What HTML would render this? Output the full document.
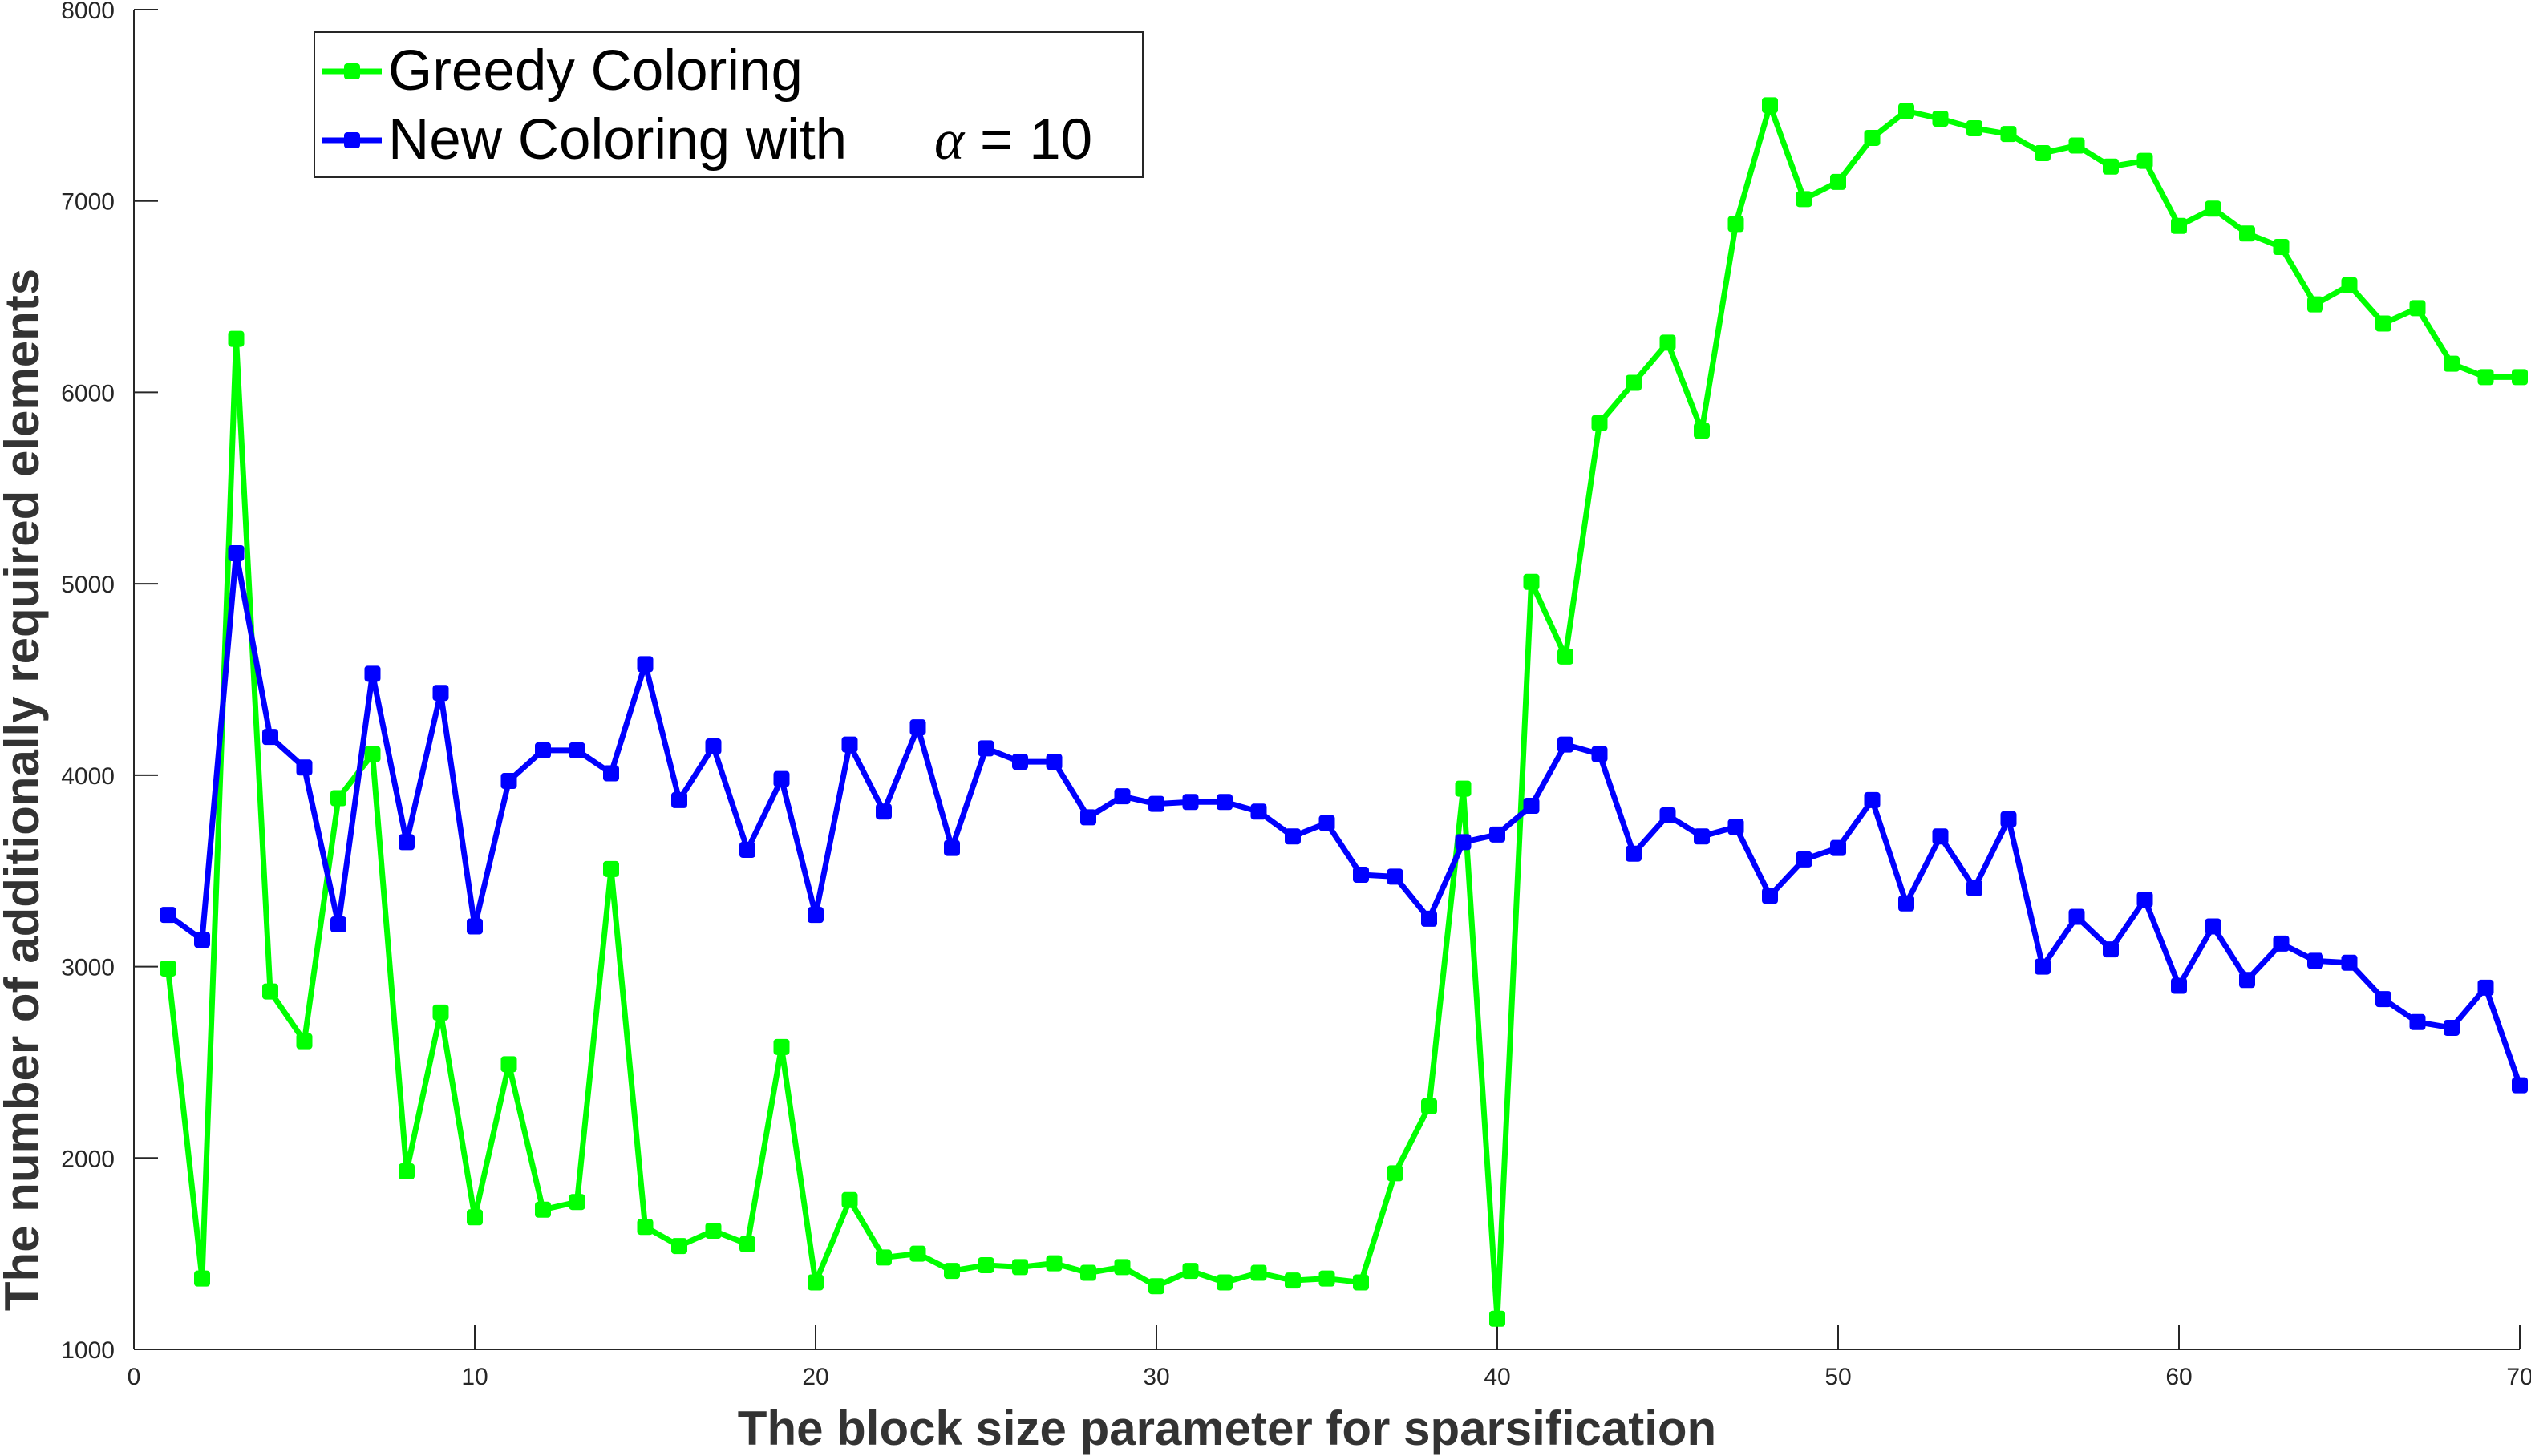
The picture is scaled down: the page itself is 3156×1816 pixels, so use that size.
<!DOCTYPE html>
<html><head><meta charset="utf-8"><style>
html,body{margin:0;padding:0;background:#fff;}
svg{display:block;font-family:"Liberation Sans",sans-serif;}
</style></head><body>
<svg id="chart" width="3156" height="1816" viewBox="0 0 3156 1816" xmlns="http://www.w3.org/2000/svg">
<g id="axes"></g>
<g id="series"></g>
<text x="1530" y="1802" text-anchor="middle" font-size="60" font-weight="bold" fill="#333">The block size parameter for sparsification</text>
<text transform="translate(48,985) rotate(-90)" text-anchor="middle" font-size="60" font-weight="bold" fill="#333">The number of additionally required elements</text>
<g>
<rect x="392" y="40" width="1033" height="181" fill="#fff" stroke="#262626" stroke-width="2"/>
<g>
<line x1="402" y1="89" x2="476" y2="89" stroke="#00ff00" stroke-width="7"/>
<rect x="429" y="79" width="20" height="20" rx="4" fill="#00ff00"/>
<text x="484" y="112" font-size="71" fill="#000">Greedy Coloring</text>
</g>
<g>
<line x1="402" y1="175" x2="476" y2="175" stroke="#0000ff" stroke-width="7"/>
<rect x="429" y="165" width="20" height="20" rx="4" fill="#0000ff"/>
<text x="484" y="198" font-size="71" fill="#000">New Coloring with</text>
<text x="1165" y="198" font-size="71" fill="#000"><tspan font-family="Liberation Serif,serif" font-style="italic">α</tspan> = 10</text>
</g>
</g>
</svg>
<script>
const xValues = [];
for (let i = 1; i <= 70; i++) xValues.push(i);
const greedyValues = [2990,1370,6280,2870,2610,3880,4110,1930,2760,1690,2490,1730,1770,3510,1640,1540,1620,1550,2580,1350,1780,1480,1500,1410,1440,1430,1450,1400,1430,1330,1410,1350,1400,1360,1370,1350,1920,2270,3930,1160,5010,4620,5840,6050,6260,5800,6880,7500,7010,7100,7330,7470,7430,7380,7350,7250,7290,7180,7210,6870,6960,6830,6760,6460,6560,6360,6440,6150,6080,6080];
const newValues = [3270,3140,5160,4200,4040,3220,4530,3650,4430,3210,3970,4130,4130,4010,4580,3870,4150,3610,3980,3270,4160,3810,4250,3620,4140,4070,4070,3780,3890,3850,3860,3860,3810,3680,3750,3480,3470,3250,3650,3690,3840,4160,4110,3590,3790,3680,3730,3370,3560,3620,3870,3330,3680,3410,3770,3000,3260,3090,3350,2900,3210,2930,3120,3030,3020,2830,2710,2680,2890,2380];
const xTicks = [0,10,20,30,40,50,60,70];
const yTicks = [1000,2000,3000,4000,5000,6000,7000,8000];

const X0=167, X1=3142, Y0=1683, Y1=12;
function sx(v){return X0+(v-0)/(70-0)*(X1-X0);}
function sy(v){return Y0-(v-1000)/(8000-1000)*(Y0-Y1);}
const NS="http://www.w3.org/2000/svg";
function mk(tag,attrs,parent){const e=document.createElementNS(NS,tag);for(const k in attrs)e.setAttribute(k,attrs[k]);parent.appendChild(e);return e;}
const axes=document.getElementById('axes');
const xl=mk('line',{x1:X0,y1:Y0,x2:X1,y2:Y0,stroke:'#262626','stroke-width':2},axes);


const yl=mk('line',{x1:X0,y1:Y0,x2:X0,y2:Y1,stroke:'#262626','stroke-width':2},axes);


xTicks.forEach(t=>{
  const tk=mk('line',{x1:sx(t),y1:Y0,x2:sx(t),y2:Y0-30,stroke:'#262626','stroke-width':2},axes);
  
  
  const tx=mk('text',{x:sx(t),y:Y0+44,'text-anchor':'middle','font-size':30,fill:'#262626'},axes);
  tx.textContent=t;
  
  
});
yTicks.forEach(t=>{
  const tk=mk('line',{x1:X0,y1:sy(t),x2:X0+30,y2:sy(t),stroke:'#262626','stroke-width':2},axes);
  
  
  const tx=mk('text',{x:X0-24,y:sy(t)+11,'text-anchor':'end','font-size':30,fill:'#262626'},axes);
  tx.textContent=t;
  
  
});
const ser=document.getElementById('series');
function drawSeries(vals,color,name){
  const g=mk('g',{},ser);
  
  
  const pts=vals.map((v,i)=>sx(xValues[i])+','+sy(v)).join(' ');
  const pl=mk('polyline',{points:pts,fill:'none',stroke:color,'stroke-width':7,'stroke-linejoin':'round'},g);
  
  
  vals.forEach((v,i)=>{
    const m=mk('rect',{x:sx(xValues[i])-10,y:sy(v)-10,width:20,height:20,fill:color,rx:4},g);
    
    
  });
}
drawSeries(greedyValues,'#00ff00','greedy-series');
drawSeries(newValues,'#0000ff','new-coloring-series');
</script>
</body></html>
